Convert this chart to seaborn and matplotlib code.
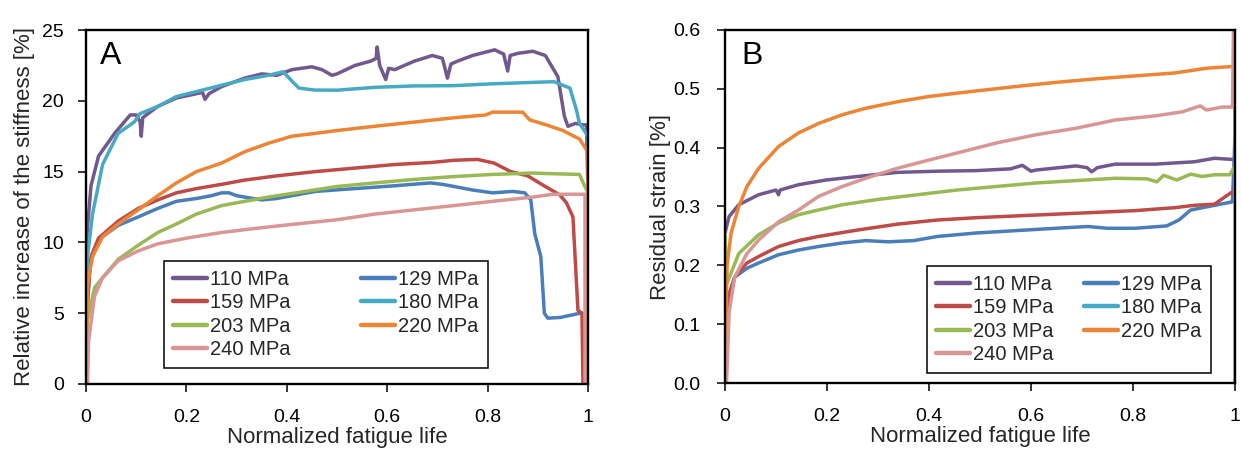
import numpy as np
import pandas as pd
import seaborn as sns
import matplotlib.pyplot as plt
from matplotlib.ticker import FuncFormatter, MultipleLocator

stress_levels = ["110 MPa", "129 MPa", "159 MPa", "180 MPa", "203 MPa", "220 MPa", "240 MPa"]
line_colors = ["#71588F", "#4A7EBB", "#BE4B48", "#46AAC5", "#98B954", "#EE8535", "#D99694"]

# ---- panel A: relative increase of stiffness [%] ----
a_x_110 = [0.0, 0.004, 0.01, 0.025, 0.057, 0.088, 0.1, 0.108, 0.11, 0.113, 0.12, 0.143, 0.18, 0.22, 0.232,
           0.237, 0.245, 0.27, 0.316, 0.35, 0.38, 0.41, 0.45, 0.47, 0.49, 0.5, 0.536, 0.567, 0.578, 0.58,
           0.585, 0.597, 0.603, 0.615, 0.654, 0.69, 0.71, 0.72, 0.727, 0.74, 0.77, 0.814, 0.832, 0.84,
           0.845, 0.86, 0.89, 0.915, 0.94, 0.953, 0.96, 0.975, 0.99, 0.997, 1.0]
a_y_110 = [9.5, 11.5, 14.0, 16.1, 17.7, 19.0, 19.0, 18.5, 17.5, 18.8, 19.0, 19.6, 20.2, 20.5, 20.6,
           20.1, 20.5, 21.0, 21.6, 21.9, 21.8, 22.2, 22.4, 22.2, 21.8, 21.9, 22.5, 22.8, 23.0, 23.8,
           22.5, 21.5, 22.3, 22.2, 22.8, 23.2, 23.0, 21.6, 22.6, 22.8, 23.2, 23.6, 23.3, 22.1,
           23.2, 23.35, 23.5, 23.2, 21.7, 18.9, 18.2, 18.4, 18.3, 18.3, 13.5]

a_x_129 = [0.0, 0.003, 0.008, 0.025, 0.064, 0.104, 0.143, 0.18, 0.22, 0.25, 0.27, 0.285, 0.3, 0.316,
           0.35, 0.38, 0.418, 0.457, 0.536, 0.615, 0.686, 0.71, 0.733, 0.77, 0.81, 0.85, 0.874, 0.886,
           0.894, 0.906, 0.913, 0.92, 0.945, 0.984, 0.988]
a_y_129 = [0.0, 5.5, 8.5, 10.2, 11.2, 11.8, 12.4, 12.9, 13.1, 13.3, 13.5, 13.5, 13.3, 13.2,
           13.0, 13.1, 13.35, 13.6, 13.8, 14.0, 14.2, 14.1, 13.95, 13.7, 13.5, 13.6, 13.5, 13.0,
           10.6, 9.0, 5.0, 4.65, 4.7, 5.0, 5.0]

a_x_159 = [0.0, 0.003, 0.01, 0.025, 0.064, 0.104, 0.143, 0.18, 0.22, 0.27, 0.316, 0.38, 0.457, 0.536,
           0.615, 0.69, 0.733, 0.78, 0.813, 0.846, 0.88, 0.91, 0.944, 0.957, 0.97, 0.98, 0.988, 0.99]
a_y_159 = [0.0, 6.0, 9.0, 10.3, 11.5, 12.4, 13.0, 13.5, 13.8, 14.1, 14.4, 14.7, 15.0, 15.25,
           15.5, 15.65, 15.8, 15.86, 15.6, 15.0, 14.7, 14.05, 13.35, 12.8, 11.8, 5.2, 5.0, 0.0]

a_x_180 = [0.0, 0.003, 0.013, 0.033, 0.064, 0.096, 0.108, 0.143, 0.18, 0.22, 0.27, 0.316, 0.363,
           0.393, 0.41, 0.424, 0.455, 0.5, 0.575, 0.654, 0.733, 0.81, 0.89, 0.932, 0.964, 0.977,
           0.983, 1.0, 1.0]
a_y_180 = [0.0, 9.0, 12.0, 15.5, 17.7, 18.5, 19.1, 19.6, 20.3, 20.65, 21.1, 21.5, 21.8,
           22.05, 21.4, 20.9, 20.76, 20.75, 20.95, 21.05, 21.07, 21.2, 21.3, 21.35, 20.9, 19.35,
           18.4, 17.5, 16.0]

a_x_203 = [0.0, 0.003, 0.017, 0.033, 0.064, 0.104, 0.143, 0.18, 0.22, 0.27, 0.316, 0.363, 0.418,
           0.5, 0.575, 0.654, 0.733, 0.81, 0.89, 0.91, 0.983, 0.993, 1.0]
a_y_203 = [0.0, 4.5, 6.8, 7.5, 8.8, 9.8, 10.7, 11.3, 12.0, 12.6, 12.9, 13.2, 13.5,
           13.95, 14.2, 14.45, 14.65, 14.8, 14.9, 14.87, 14.8, 14.0, 13.5]

a_x_220 = [0.0, 0.003, 0.013, 0.033, 0.064, 0.104, 0.143, 0.18, 0.22, 0.27, 0.316, 0.363, 0.41,
           0.457, 0.5, 0.575, 0.654, 0.733, 0.796, 0.81, 0.87, 0.884, 0.917, 0.95, 0.983, 0.996,
           1.0, 1.0]
a_y_220 = [0.0, 7.0, 9.0, 10.4, 11.3, 12.3, 13.3, 14.2, 15.0, 15.6, 16.4, 17.0, 17.5,
           17.7, 17.9, 18.2, 18.5, 18.8, 19.0, 19.2, 19.2, 18.65, 18.3, 17.9, 17.3, 16.6,
           16.2, 0.0]

a_x_240 = [0.0, 0.003, 0.005, 0.017, 0.033, 0.064, 0.104, 0.143, 0.2, 0.27, 0.34, 0.418, 0.5,
           0.575, 0.654, 0.733, 0.81, 0.89, 0.93, 0.99, 0.994, 0.994]
a_y_240 = [0.0, 0.0, 3.0, 6.2, 7.5, 8.7, 9.4, 9.9, 10.3, 10.7, 11.0, 11.3, 11.6,
           12.0, 12.3, 12.6, 12.9, 13.2, 13.4, 13.4, 13.4, 0.0]

# ---- panel B: residual strain [%] ----
b_x_110 = [0.0, 0.008, 0.027, 0.066, 0.1, 0.105, 0.108, 0.144, 0.198, 0.26, 0.338, 0.416, 0.493,
           0.56, 0.583, 0.6, 0.61, 0.688, 0.71, 0.719, 0.73, 0.765, 0.843, 0.92, 0.96, 0.995]
b_y_110 = [0.255, 0.283, 0.303, 0.32, 0.328, 0.32, 0.328, 0.337, 0.345, 0.351, 0.358, 0.36, 0.361,
           0.364, 0.37, 0.36, 0.362, 0.369, 0.366, 0.359, 0.366, 0.372, 0.372, 0.376, 0.382, 0.38]

b_x_129 = [0.0, 0.008, 0.019, 0.043, 0.066, 0.105, 0.144, 0.183, 0.23, 0.276, 0.32, 0.37, 0.416,
           0.493, 0.571, 0.649, 0.711, 0.75, 0.804, 0.866, 0.89, 0.913, 0.96, 0.995, 1.0, 1.0]
b_y_129 = [0.0, 0.15, 0.18, 0.195, 0.204, 0.218, 0.226, 0.232, 0.238, 0.242, 0.24, 0.242, 0.249,
           0.255, 0.259, 0.263, 0.266, 0.263, 0.263, 0.267, 0.277, 0.294, 0.302, 0.308, 0.42, 0.53]

b_x_159 = [0.0, 0.008, 0.019, 0.043, 0.066, 0.105, 0.144, 0.183, 0.26, 0.338, 0.416, 0.493, 0.571,
           0.649, 0.727, 0.804, 0.882, 0.92, 0.96, 0.983, 0.995]
b_y_159 = [0.0, 0.15, 0.18, 0.204, 0.215, 0.232, 0.242, 0.249, 0.26, 0.27, 0.277, 0.281, 0.284,
           0.287, 0.29, 0.293, 0.298, 0.302, 0.304, 0.318, 0.325]

b_x_180 = [1.0, 1.0]
b_y_180 = [0.31, 0.42]

b_x_203 = [0.0, 0.0, 0.004, 0.027, 0.066, 0.105, 0.144, 0.183, 0.23, 0.3, 0.377, 0.455, 0.532,
           0.61, 0.688, 0.765, 0.827, 0.847, 0.86, 0.886, 0.913, 0.936, 0.96, 0.99, 1.0, 1.0]
b_y_203 = [0.0, 0.25, 0.17, 0.22, 0.252, 0.272, 0.286, 0.294, 0.303, 0.312, 0.32, 0.328, 0.334,
           0.34, 0.344, 0.348, 0.347, 0.342, 0.353, 0.345, 0.355, 0.351, 0.354, 0.354, 0.37, 0.0]

b_x_220 = [0.0, 0.002, 0.004, 0.012, 0.027, 0.043, 0.066, 0.105, 0.144, 0.183, 0.23, 0.276, 0.338,
           0.4, 0.478, 0.571, 0.649, 0.727, 0.804, 0.882, 0.944, 0.995, 1.0, 1.0]
b_y_220 = [0.0, 0.12, 0.2, 0.255, 0.3, 0.334, 0.365, 0.402, 0.425, 0.441, 0.456, 0.467, 0.478,
           0.487, 0.495, 0.504, 0.511, 0.517, 0.522, 0.527, 0.535, 0.538, 0.538, 0.6]

b_x_240 = [0.0, 0.003, 0.008, 0.019, 0.043, 0.066, 0.105, 0.144, 0.183, 0.23, 0.276, 0.338, 0.4,
           0.478, 0.532, 0.61, 0.688, 0.765, 0.843, 0.897, 0.932, 0.944, 0.975, 0.995, 0.997]
b_y_240 = [0.0, 0.0, 0.12, 0.18, 0.22, 0.243, 0.274, 0.294, 0.317, 0.334, 0.348, 0.365, 0.379,
           0.396, 0.408, 0.422, 0.433, 0.447, 0.454, 0.461, 0.471, 0.464, 0.469, 0.469, 0.6]

panel_a = [(a_x_110, a_y_110), (a_x_129, a_y_129), (a_x_159, a_y_159), (a_x_180, a_y_180),
           (a_x_203, a_y_203), (a_x_220, a_y_220), (a_x_240, a_y_240)]
panel_b = [(b_x_110, b_y_110), (b_x_129, b_y_129), (b_x_159, b_y_159), (b_x_180, b_y_180),
           (b_x_203, b_y_203), (b_x_220, b_y_220), (b_x_240, b_y_240)]


def to_long(series):
    frames = []
    for label, (xs, ys) in zip(stress_levels, series):
        frames.append(pd.DataFrame({"life": xs, "value": ys, "stress": label}))
    return pd.concat(frames, ignore_index=True)


sns.set_theme(style="white")
plt.rcParams["font.family"] = ["Liberation Sans", "DejaVu Sans"]

palette = dict(zip(stress_levels, line_colors))

fig = plt.figure(figsize=(12.41, 4.54), dpi=100)
ax_a = fig.add_axes([86 / 1241, 70 / 454, 502 / 1241, 354 / 454])
ax_b = fig.add_axes([725 / 1241, 71 / 454, 510 / 1241, 353 / 454])

setups = [
    (ax_a, panel_a, (0, 25), 5, "Relative increase of the stiffness [%]", "A",
     lambda v, p: f"{v:g}", 10, 5, (0.155, 0.045), 3.5, 0.028),
    (ax_b, panel_b, (0, 0.6), 0.1, "Residual strain [%]", "B",
     lambda v, p: f"{v:.1f}", 12, 1, (0.396, 0.028), 1.5, 0.032),
]

for ax, series, ylim, ystep, ylabel, tag, yfmt, ypad, ylpad, leg_pos, colsp, tag_x in setups:
    df = to_long(series)
    sns.lineplot(data=df, x="life", y="value", hue="stress", hue_order=stress_levels,
                 palette=palette, estimator=None, sort=False, units="stress",
                 linewidth=2.5, ax=ax)
    ax.set_xlim(0, 1)
    ax.set_ylim(*ylim)
    ax.xaxis.set_major_locator(MultipleLocator(0.2))
    ax.yaxis.set_major_locator(MultipleLocator(ystep))
    ax.xaxis.set_major_formatter(FuncFormatter(lambda v, p: f"{v:g}"))
    ax.yaxis.set_major_formatter(FuncFormatter(yfmt))
    ax.tick_params(axis="x", bottom=True, direction="out", length=6, width=1.1,
                   labelsize=14, pad=12, colors="black")
    ax.tick_params(axis="y", left=True, direction="out", length=6, width=1.1,
                   labelsize=14, pad=ypad, colors="black")
    ax.set_xlabel("Normalized fatigue life", fontsize=16, labelpad=1)
    ax.set_ylabel(ylabel, fontsize=16, labelpad=ylpad)
    for sp in ax.spines.values():
        sp.set_color("black")
        sp.set_linewidth(1.7)
    ax.text(tag_x, 0.885, tag, transform=ax.transAxes, fontsize=23, color="black",
            ha="left", va="bottom")

    handles, labels = ax.get_legend_handles_labels()
    lookup = dict(zip(labels, handles))
    # matplotlib fills legend columns first; reorder so rows read 110/129, 159/180, ...
    order = ["110 MPa", "159 MPa", "203 MPa", "240 MPa", "129 MPa", "180 MPa", "220 MPa"]
    leg = ax.legend([lookup[k] for k in order], order, ncol=2, loc="lower left",
                    bbox_to_anchor=leg_pos, borderaxespad=0, fontsize=14.5, frameon=True,
                    fancybox=False, edgecolor="black", framealpha=1, handlelength=1.7,
                    handletextpad=0.15, columnspacing=colsp, labelspacing=0.22,
                    borderpad=0.45)
    leg.get_frame().set_linewidth(1.1)
    for h in leg.get_lines():
        h.set_linewidth(3.2)

fig.savefig("out.png", dpi=100)
